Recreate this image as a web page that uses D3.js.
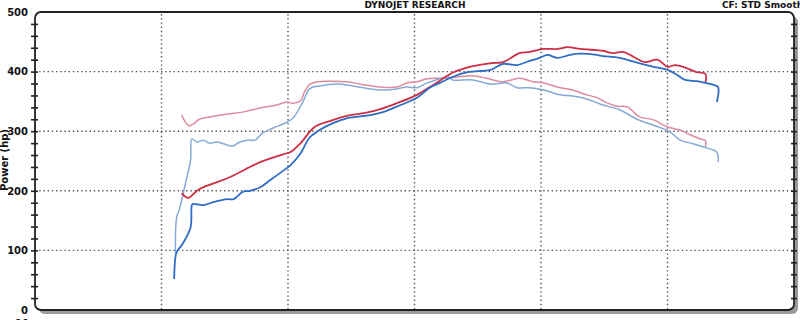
<!DOCTYPE html>
<html>
<head>
<meta charset="utf-8">
<script src="https://cdn.jsdelivr.net/npm/d3@7"></script>
<style>
  html, body { margin: 0; padding: 0; background: #fff; overflow: hidden; }
  svg { display: block; font-family: "DejaVu Sans", sans-serif; }
</style>
</head>
<body>
<div id="chart"></div>
<script>
/** Chart texts. */
const TITLE = "DYNOJET RESEARCH";
const CORRECTION = "CF: STD  Smoothing";
const Y_LABEL = "Power (hp)";

/** Axis ranges and ticks (rpm, hp). */
const RPM_DOMAIN = [1000, 7000];
const RPM_GRID = [2000, 3000, 4000, 5000, 6000];
const HP_DOMAIN = [0, 500];
const HP_GRID = [100, 200, 300, 400];
const HP_LABELS = [0, 100, 200, 300, 400, 500];
const HP_MINOR = d3.range(0, 501, 20);

/** Runs, each as [rpm, hp]. */
const run1Dark = [
  [2160, 196], [2210, 188], [2300, 203], [2520, 221], [2780, 248], [2990, 263],
  [3020, 265], [3100, 280], [3210, 307], [3330, 317], [3490, 327], [3620, 331],
  [3730, 337], [3860, 347], [4020, 361], [4120, 374], [4260, 393], [4300, 398],
  [4460, 409], [4600, 414], [4700, 416], [4830, 431], [4910, 433], [5020, 438],
  [5130, 438], [5210, 441], [5310, 438], [5440, 436], [5490, 435], [5570, 431],
  [5650, 433], [5730, 425], [5820, 416], [5920, 420], [6000, 408], [6060, 411],
  [6150, 406], [6230, 399], [6300, 396], [6300, 381]
];
const run2Dark = [
  [2100, 52], [2110, 89], [2120, 97], [2170, 112], [2230, 139], [2240, 176],
  [2250, 178], [2330, 176], [2410, 181], [2520, 186], [2570, 186], [2640, 198],
  [2700, 200], [2780, 206], [2860, 218], [2990, 238], [3020, 243], [3100, 263],
  [3170, 289], [3250, 302], [3360, 314], [3470, 322], [3650, 327], [3750, 332],
  [3890, 344], [4020, 356], [4120, 373], [4200, 381], [4300, 391], [4420, 399],
  [4600, 403], [4700, 413], [4810, 411], [4910, 418], [4990, 423], [5050, 428],
  [5130, 423], [5230, 428], [5310, 430], [5440, 428], [5490, 426], [5620, 423],
  [5760, 415], [5890, 408], [6000, 403], [6080, 394], [6140, 386], [6230, 384],
  [6300, 381], [6360, 378], [6400, 374], [6390, 349]
];
const run1Light = [
  [2160, 327], [2190, 315], [2220, 309], [2250, 312], [2300, 320], [2380, 324],
  [2520, 329], [2640, 332], [2780, 339], [2910, 344], [2990, 349], [3040, 347],
  [3100, 351], [3130, 366], [3170, 378], [3230, 383], [3330, 384], [3470, 383],
  [3590, 378], [3730, 374], [3860, 374], [3940, 381], [4020, 383], [4100, 388],
  [4180, 389], [4260, 389], [4340, 391], [4460, 393], [4570, 389], [4700, 383],
  [4830, 389], [4940, 383], [5020, 381], [5130, 374], [5250, 369], [5360, 361],
  [5450, 356], [5490, 351], [5600, 342], [5680, 341], [5780, 324], [5890, 319],
  [6000, 307], [6100, 302], [6180, 294], [6260, 287], [6300, 284], [6300, 274]
];
const run2Light = [
  [2110, 96], [2120, 156], [2140, 168], [2190, 213], [2230, 252], [2240, 287],
  [2280, 282], [2330, 285], [2380, 280], [2440, 282], [2490, 279], [2560, 275],
  [2620, 282], [2680, 285], [2740, 285], [2800, 297], [2880, 305], [2990, 315],
  [3040, 322], [3120, 350], [3170, 371], [3250, 376], [3390, 379], [3510, 376],
  [3650, 371], [3780, 369], [3860, 371], [3940, 374], [4020, 373], [4100, 381],
  [4200, 388], [4270, 391], [4300, 386], [4460, 386], [4600, 379], [4730, 381],
  [4810, 373], [4910, 373], [5020, 369], [5150, 361], [5250, 359], [5360, 354],
  [5450, 347], [5490, 344], [5620, 336], [5760, 320], [5890, 310], [6020, 299],
  [6100, 285], [6200, 279], [6310, 272], [6390, 265], [6400, 248]
];

const WIDTH = 800;
const HEIGHT = 320;
const PLOT = { left: 35, right: 794, top: 12, bottom: 310 };

const x = d3.scaleLinear().domain(RPM_DOMAIN).range([PLOT.left, PLOT.right]);
const y = d3.scaleLinear().domain(HP_DOMAIN).range([PLOT.bottom, PLOT.top]);

const svg = d3.select("#chart").append("svg")
    .attr("width", WIDTH)
    .attr("height", HEIGHT);

// Gray drop shadow on the bottom and right of the frame
svg.append("rect")
    .attr("x", PLOT.left + 4)
    .attr("y", PLOT.top + 4)
    .attr("width", PLOT.right - PLOT.left)
    .attr("height", PLOT.bottom - PLOT.top)
    .attr("rx", 6)
    .attr("fill", "#9a9a9a");
svg.append("rect")
    .attr("x", PLOT.left)
    .attr("y", PLOT.top)
    .attr("width", PLOT.right - PLOT.left)
    .attr("height", PLOT.bottom - PLOT.top)
    .attr("rx", 6)
    .attr("fill", "#fff");

// Dotted grid
const grid = svg.append("g")
    .attr("stroke", "#555")
    .attr("stroke-width", 1.4)
    .attr("stroke-dasharray", "1.4,2.8");
grid.selectAll("line.h")
    .data(HP_GRID)
    .enter()
    .append("line")
    .attr("x1", PLOT.left)
    .attr("x2", PLOT.right)
    .attr("y1", d => y(d))
    .attr("y2", d => y(d));
grid.selectAll("line.v")
    .data(RPM_GRID)
    .enter()
    .append("line")
    .attr("x1", d => x(d))
    .attr("x2", d => x(d))
    .attr("y1", PLOT.top + 2)
    .attr("y2", PLOT.bottom);

// Frame
svg.append("rect")
    .attr("x", PLOT.left)
    .attr("y", PLOT.top)
    .attr("width", PLOT.right - PLOT.left)
    .attr("height", PLOT.bottom - PLOT.top)
    .attr("rx", 6)
    .attr("fill", "none")
    .attr("stroke", "#222")
    .attr("stroke-width", 1.8);

// Left axis, ticks cross the frame
const left = svg.append("g")
    .attr("transform", `translate(${PLOT.left},0)`)
    .call(d3.axisLeft(y)
        .tickValues(HP_MINOR)
        .tickSize(4)
        .tickPadding(3)
        .tickFormat(d => HP_LABELS.includes(d) ? d : ""));
left.select(".domain").remove();
left.selectAll(".tick line")
    .attr("x1", 3)
    .attr("stroke", "#222")
    .attr("stroke-width", 1.6)
    .filter(d => d === 0 || d === 500).remove();
left.selectAll(".tick text")
    .attr("font-family", "DejaVu Sans, sans-serif")
    .attr("font-size", 10)
    .attr("font-weight", "bold")
    .attr("fill", "#111");

// Right axis, ticks only
const right = svg.append("g")
    .attr("transform", `translate(${PLOT.right},0)`)
    .call(d3.axisRight(y)
        .tickValues(HP_MINOR.filter(d => d > 0 && d < 500))
        .tickSize(3)
        .tickFormat(""));
right.select(".domain").remove();
right.selectAll(".tick line")
    .attr("x1", -3)
    .attr("stroke", "#222")
    .attr("stroke-width", 1.6);

// Power curves
const line = d3.line()
    .x(d => x(d[0]))
    .y(d => y(d[1]))
    .curve(d3.curveCatmullRom.alpha(0.5));

const runs = [
  { data: run1Light, color: "#dd8c9c", width: 1.5 },
  { data: run2Light, color: "#86a9d6", width: 1.5 },
  { data: run1Dark, color: "#cc3045", width: 1.8 },
  { data: run2Dark, color: "#2f6cc4", width: 1.8 }
];
svg.append("g")
    .selectAll("path")
    .data(runs)
    .enter()
    .append("path")
    .attr("d", d => line(d.data))
    .attr("fill", "none")
    .attr("stroke", d => d.color)
    .attr("stroke-width", d => d.width)
    .attr("stroke-linejoin", "round");

// Texts
svg.append("text")
    .attr("x", 415)
    .attr("y", 8)
    .attr("text-anchor", "middle")
    .attr("font-size", 9)
    .attr("font-weight", "bold")
    .attr("fill", "#111")
    .text(TITLE);

svg.append("text")
    .attr("x", 722)
    .attr("y", 8)
    .attr("font-size", 9)
    .attr("font-weight", "bold")
    .attr("fill", "#111")
    .text(CORRECTION);

svg.append("text")
    .attr("transform", `translate(8,160) rotate(-90)`)
    .attr("text-anchor", "middle")
    .attr("font-size", 10)
    .attr("font-weight", "bold")
    .attr("fill", "#111")
    .text(Y_LABEL);

// Top of the next chart's label, cut by the page edge
svg.append("text")
    .attr("x", 29)
    .attr("y", 327)
    .attr("text-anchor", "end")
    .attr("font-size", 10)
    .attr("font-weight", "bold")
    .attr("fill", "#111")
    .text("10");
</script>
</body>
</html>
